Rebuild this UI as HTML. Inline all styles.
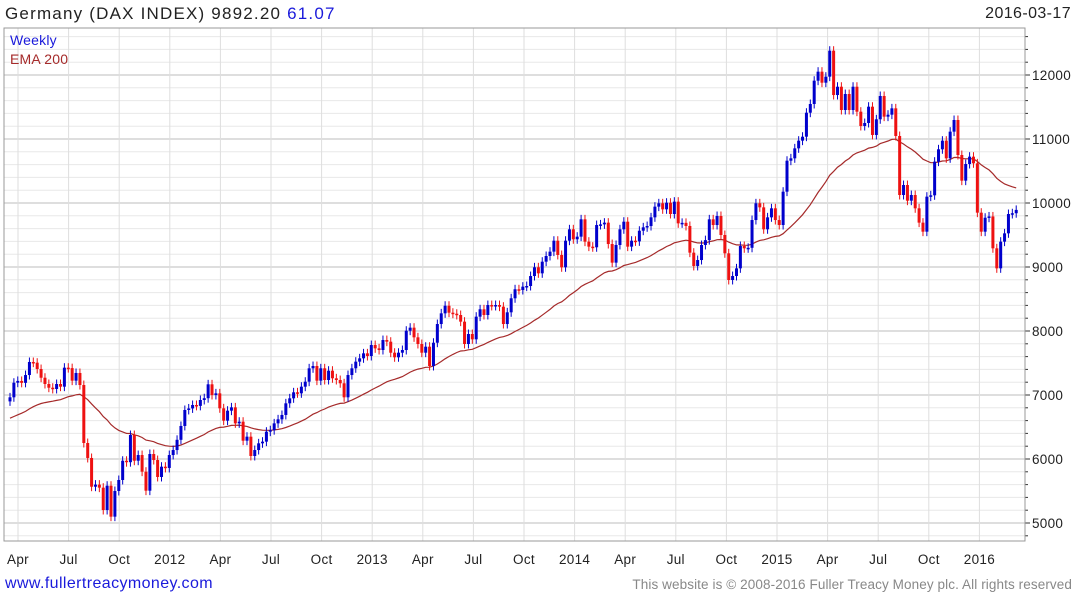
<!DOCTYPE html>
<html><head><meta charset="utf-8"><style>
body{margin:0;background:#fff;font-family:"Liberation Sans",sans-serif;}
#wrap{position:relative;width:1075px;height:600px;overflow:hidden;}
.t{position:absolute;white-space:nowrap;}
</style></head><body>
<div id="wrap">
<div class="t" style="left:5px;top:4px;font-size:17px;letter-spacing:1.2px;color:#222">Germany (DAX INDEX) 9892.20 <span style="color:#1a1adb">61.07</span></div>
<div class="t" style="right:4px;top:5px;font-size:16px;letter-spacing:0.4px;color:#222">2016-03-17</div>
<svg id="chart" width="1075" height="600" style="position:absolute;left:0;top:0"></svg>
<div class="t" style="left:10px;top:32px;font-size:14px;letter-spacing:0.2px;color:#1a1adb">Weekly</div>
<div class="t" style="left:10px;top:51px;font-size:14px;letter-spacing:0.2px;color:#a52a2a">EMA 200</div>
<div class="t" style="left:5px;top:575px;font-size:16px;letter-spacing:0.4px;color:#1a1adb">www.fullertreacymoney.com</div>
<div class="t" style="right:3px;top:577px;font-size:13.5px;letter-spacing:0.1px;color:#888">This website is © 2008-2016 Fuller Treacy Money plc. All rights reserved</div>
</div>
<script>
const closes = [6964,7192,7220,7190,7312,7516,7505,7406,7270,7172,7114,7094,7172,7130,7427,7420,7224,7344,7156,6250,6016,5567,5600,5552,5203,5583,5099,5500,5672,5973,5950,6375,5973,6062,5802,5505,6078,5984,5719,5880,5860,6062,
6140,6300,6516,6766,6790,6844,6830,6922,6950,7167,7000,7026,6792,6599,6755,6807,6557,6583,6286,6349,6047,6140,6245,6271,6427,6450,6557,6620,6688,6870,6948,7042,7026,7130,7208,7417,7453,7224,7417,7234,7380,7261,7234,7183,
6964,7312,7417,7521,7573,7651,7609,7781,7729,7703,7859,7833,7661,7589,7661,7703,8005,8052,7901,7797,7661,7755,7453,7817,8109,8276,8395,8286,8270,8250,8146,7797,7953,7870,8224,8339,8250,8406,8391,8406,8380,8109,8292,8511,
8652,8640,8693,8703,8859,8995,8901,9083,9172,9240,9411,9188,8995,9411,9589,9433,9474,9745,9396,9318,9308,9656,9666,9693,9359,9068,9344,9589,9708,9318,9411,9400,9567,9620,9640,9776,9943,9995,9901,10005,9828,10021,9682,9690,
9641,9224,9016,9109,9344,9420,9745,9656,9797,9500,9214,8797,8859,8979,9328,9292,9300,9734,9995,9932,9589,9776,9917,9734,9656,10177,10661,10698,10854,10974,11036,11411,11547,11911,12052,11880,11974,12380,11687,11817,11453,11703,11453,11817,
11427,11203,11250,11505,11063,11308,11672,11349,11380,11479,11047,10125,10281,10036,10125,9917,9693,9552,10099,10120,10646,10839,10974,10698,11115,11297,10750,10349,10609,10724,10620,9849,9552,9770,9790,9292,8979,9396,9526,9828,9840,9892];
const firstOpen = 6900;
const emaSeed = 6620;
const yTicks = [5000,6000,7000,8000,9000,10000,11000,12000];
const xLabels = ["Apr","Jul","Oct","2012","Apr","Jul","Oct","2013","Apr","Jul","Oct","2014","Apr","Jul","Oct","2015","Apr","Jul","Oct","2016"];

const NS="http://www.w3.org/2000/svg";
const svg=document.getElementById('chart');
const L=4,R=1025,T=28,B=541;
const y=v=>75+(12000-v)*0.064;
const x=i=>10+i*3.885;
const qx=q=>18+q*50.6;
function mk(tag,attrs){const e=document.createElementNS(NS,tag);for(const k in attrs)e.setAttribute(k,attrs[k]);svg.appendChild(e);return e;}
for(let v=4800;v<=12800;v+=200){const yy=y(v);if(yy<T||yy>B)continue;
 const l=mk('line',{x1:L,x2:R,y1:yy,y2:yy,stroke:v%1000===0?'#bdbdbd':'#e8e8e8','stroke-width':1});
 
 
 const tk=mk('line',{x1:R,x2:R+(v%1000===0?5:3),y1:yy,y2:yy,stroke:'#333'});
 
 
}
xLabels.forEach((lb,q)=>{const xx=qx(q);
 const g=mk('line',{x1:xx,x2:xx,y1:T,y2:B,stroke:'#dedede'});
 
 
 const t=mk('text',{x:xx,y:564,'text-anchor':'middle','font-size':13.5,'letter-spacing':0.3,fill:'#222','font-family':'Liberation Sans, sans-serif'});
 t.textContent=lb;
 
 
});
yTicks.forEach(v=>{const t=mk('text',{x:1032,y:y(v)+5,'font-size':13.5,'letter-spacing':0.3,fill:'#222','font-family':'Liberation Sans, sans-serif'});
 t.textContent=v;
 
 
});
const box=mk('rect',{x:L,y:T,width:R-L,height:B-T,fill:'none',stroke:'#999'});


let e=emaSeed,pts=[];const a=2/41;
closes.forEach((c,i)=>{e=e+a*(c-e);pts.push(x(i).toFixed(1)+','+y(e).toFixed(1));});
const ema=mk('polyline',{points:pts.join(' '),fill:'none',stroke:'#a52a2a','stroke-width':1.2});


closes.forEach((c,i)=>{const o=i===0?firstOpen:closes[i-1];
 const up=c>=o,col=up?'#0000cc':'#ee1111';
 const hi=Math.max(o,c)+70,lo=Math.min(o,c)-70;
 const w=mk('line',{x1:x(i),x2:x(i),y1:y(hi),y2:y(lo),stroke:col,'stroke-width':1});
 
 
 const top=y(Math.max(o,c)),h=Math.max(1.5,y(Math.min(o,c))-top);
 const b=mk('rect',{x:x(i)-1.5,y:top,width:3,height:h,fill:col});
 
 
});
</script>
</body></html>
